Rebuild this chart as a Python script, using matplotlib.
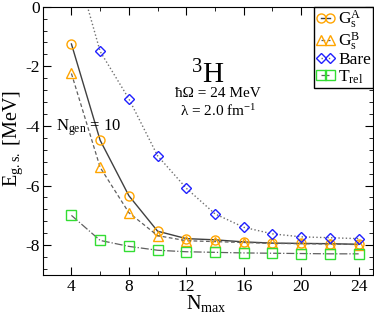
import matplotlib
matplotlib.use("Agg")
import matplotlib.pyplot as plt
from matplotlib.ticker import MultipleLocator

plt.rcParams['font.family'] = ['Liberation Serif', 'DejaVu Serif']
plt.rcParams['mathtext.fontset'] = 'custom'
plt.rcParams['mathtext.rm'] = 'Liberation Serif'
plt.rcParams['mathtext.it'] = 'Liberation Serif:italic'

# data
nmax = [4, 6, 8, 10, 12, 14, 16, 18, 20, 22, 24]
gs_a = [-1.25, -4.48, -6.34, -7.53, -7.78, -7.82, -7.89, -7.93, -7.94, -7.95, -7.97]
gs_b = [-2.24, -5.39, -6.91, -7.68, -7.85, -7.88, -7.91, -7.94, -7.95, -7.96, -7.98]
bare = [1.9, -1.5, -3.09, -5.0, -6.09, -6.95, -7.4, -7.62, -7.72, -7.75, -7.78]
trel = [-7.0, -7.84, -8.04, -8.17, -8.22, -8.24, -8.26, -8.27, -8.28, -8.29, -8.29]

fig = plt.figure(figsize=(3.74, 3.13), dpi=100)
ax = fig.add_axes([42.7/374, 1 - 275/313, (373 - 42.7)/374, (275 - 6.7)/313])

mk = dict(markersize=6.5, markerfacecolor='none', markeredgewidth=1.0)
ax.plot(nmax, gs_a, '-', color='#404040', lw=1.0, marker='o', markeredgecolor='#FFA500',
        label=r'$\mathrm{G_s^A}$', **mk)
ax.plot(nmax, gs_b, '--', color='#606060', lw=0.9, marker='^', markeredgecolor='#FFA500',
        label=r'$\mathrm{G_s^B}$', dashes=(3, 2), **mk)
ax.plot(nmax, bare, ':', color='#707070', lw=1.0, marker='D', markeredgecolor='#2020FF',
        label='Bare', markersize=5.5, markerfacecolor='none', markeredgewidth=1.0)
ax.plot(nmax, trel, '-.', color='#606060', lw=0.9, marker='s', markeredgecolor='#33DD33',
        label=r'$\mathrm{T_{rel}}$', **mk)

ax.set_xlim(2, 25)
ax.set_ylim(-9, 0)
ax.xaxis.set_major_locator(MultipleLocator(4))
ax.xaxis.set_minor_locator(MultipleLocator(2))
ax.yaxis.set_minor_locator(MultipleLocator(0.4))
ax.set_yticks([-8, -6, -4, -2, 0])
ax.set_yticklabels(['-8', '-6', '-4', '-2', '0'])
ax.tick_params(which='both', direction='in', top=True, right=True, labelsize=12.5)
ax.tick_params(which='major', length=6)
ax.tick_params(which='minor', length=3)
ax.tick_params(axis='y', pad=2)
ax.tick_params(axis='x', pad=3)

ax.set_xlabel(r'N$_{\mathrm{max}}$', fontsize=14.5)
ax.xaxis.set_label_coords(0.497, -0.068)
ax.xaxis.label.set_va('top')
ax.set_ylabel(r'E$_{\mathrm{g.s.}}$ [MeV]', fontsize=14.5)
ax.yaxis.set_label_coords(-0.126, 0.51)
ax.yaxis.label.set_va('top')

ax.text(0.50, 0.745, r'$^{\mathrm{3}}$H', transform=ax.transAxes, fontsize=21,
        ha='center', va='center')
ax.text(0.53, 0.675, 'ħΩ = 24 MeV', transform=ax.transAxes, fontsize=11,
        ha='center', va='center')
ax.text(0.53, 0.61, r'λ = 2.0 fm$^{\mathrm{-1}}$', transform=ax.transAxes, fontsize=11,
        ha='center', va='center')
ax.text(0.04, 0.55, r'N$_{\mathrm{gen}}$ = 10', transform=ax.transAxes, fontsize=12,
        ha='left', va='center')

leg = ax.legend(loc='upper right', fontsize=12.5, numpoints=2,
                handlelength=1.1, handletextpad=0.2, labelspacing=0.0,
                borderpad=0.1, borderaxespad=0, fancybox=False, framealpha=1)
leg.get_frame().set_edgecolor('black')
leg.get_frame().set_linewidth(1.0)

fig.savefig('out.png', dpi=100)
